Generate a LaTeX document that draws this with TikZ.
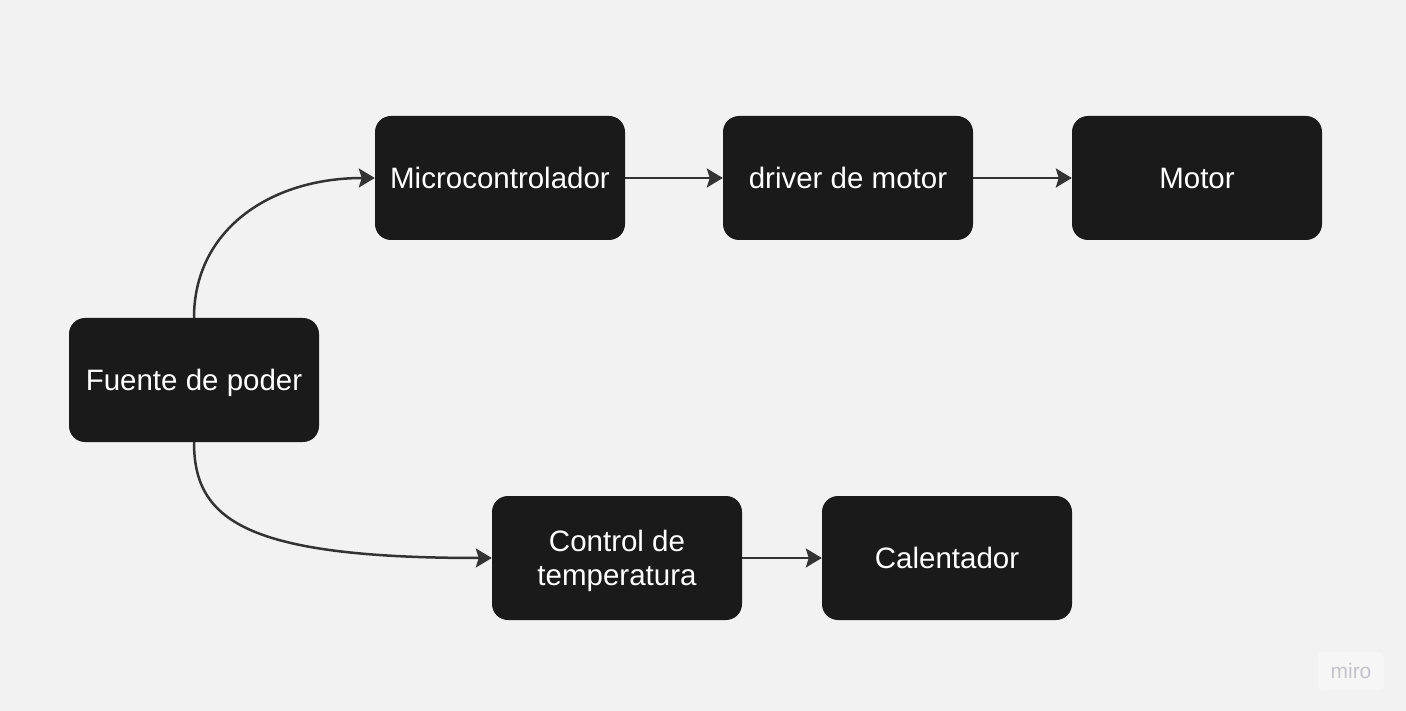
\documentclass[tikz,border=0pt]{standalone}
\usepackage{fontspec}
\setmainfont{Liberation Sans}
\usetikzlibrary{arrows.meta}
\definecolor{bg}{HTML}{F2F2F2}
\definecolor{boxfill}{HTML}{1A1A1A}
\definecolor{linec}{HTML}{333333}
\definecolor{mirotext}{HTML}{C4C4CC}
\definecolor{mirobg}{HTML}{F6F6F6}
\tikzset{
  block/.style={fill=boxfill, rounded corners=16pt, minimum width=250pt, minimum height=124pt,
    inner sep=0pt},
  lbl/.style={text=white, inner sep=0pt, text height=21pt, text depth=0pt, font=\fontsize{29.5}{34}\selectfont},
  lbltwo/.style={text=white, align=center, inner sep=0pt, yshift=-3pt, font=\fontsize{29.5}{34}\selectfont},
  conn/.style={draw=linec, line width=2.5pt, -{Stealth[length=16pt,width=19pt,inset=3pt]}},
}
\begin{document}
\begin{tikzpicture}[x=1pt,y=-1pt]
\fill[bg] (0,0) rectangle (1406,711);
\useasboundingbox (0,0) rectangle (1406,711);
\node[block, label={[lbl]center:Microcontrolador}] (mc) at (500,178) {};
\node[block, label={[lbl]center:driver de motor}] (dm) at (848,178) {};
\node[block, label={[lbl]center:Motor}] (mo) at (1197,178) {};
\node[block, label={[lbl]center:Fuente de poder}] (fp) at (194,380) {};
\node[block, label={[lbltwo]center:{Control de\\temperatura}}] (ct) at (617,558) {};
\node[block, label={[lbl]center:Calentador}] (ca) at (947,558) {};
\draw[conn] (mc.east) -- (dm.west);
\draw[conn] (dm.east) -- (mo.west);
\draw[conn] (ct.east) -- (ca.west);
\draw[conn] (fp.north) .. controls (194,230) and (270,178) .. (mc.west);
\draw[conn] (fp.south) .. controls (194,520) and (245,558) .. (ct.west);
\node[fill=mirobg, rounded corners=4pt, minimum width=66pt, minimum height=38pt, inner sep=0pt,
  text=mirotext, font=\fontsize{21}{24}\selectfont] (miro) at (1351,671) {miro};
\end{tikzpicture}
\end{document}
